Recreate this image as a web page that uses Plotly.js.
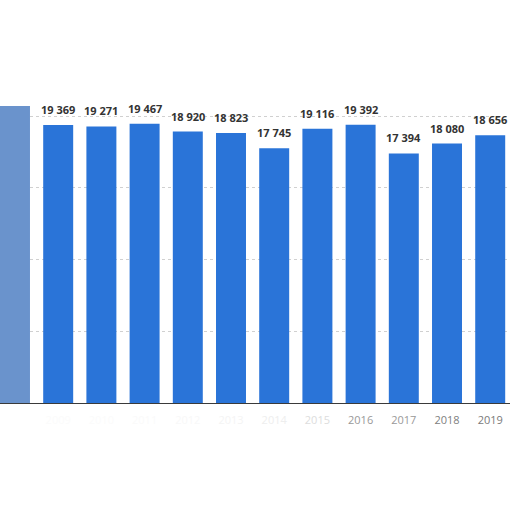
<!DOCTYPE html>
<html>
<head>
<meta charset="utf-8">
<script src="https://cdn.plot.ly/plotly-3.0.1.min.js"></script>
<style>html,body{margin:0;padding:0;background:#fff;}#chart{width:512px;height:512px;}</style>
</head>
<body>
<div id="chart"></div>
<script>
var years = [2008, 2009, 2010, 2011, 2012, 2013, 2014, 2015, 2016, 2017, 2018, 2019];
var values = [20700, 19369, 19271, 19467, 18920, 18823, 17745, 19116, 19392, 17394, 18080, 18656];
var labelText = ['', '19 369', '19 271', '19 467', '18 920', '18 823', '17 745', '19 116', '19 392', '17 394', '18 080', '18 656'];
var tickLabels = ['2008', '2009', '2010', '2011', '2012', '2013', '2014', '2015', '2016', '2017', '2018', '2019'];
var tickColors = ['#ffffff', '#fbfbfb', '#fbfbfb', '#fafafa', '#f8f8f8', '#f4f4f4', '#eeeeee', '#dddddd', '#999999', '#999999', '#808080', '#7a7a7a'];
var barColors = ['#6a93cc', '#2a74d8', '#2a74d8', '#2a74d8', '#2a74d8', '#2a74d8', '#2a74d8', '#2a74d8', '#2a74d8', '#2a74d8', '#2a74d8', '#2a74d8'];

var ticktext = tickLabels.map(function (t, i) {
  return '<span style="color:' + tickColors[i] + '">' + t + '</span>';
});

var annotations = years.map(function (y, i) {
  return {
    x: y, y: values[i], xref: 'x', yref: 'y',
    text: labelText[i], showarrow: false,
    yanchor: 'bottom', yshift: 6,
    font: {family: 'Open Sans', size: 11, color: '#333333', weight: 'bold'}
  };
});

var trace = {
  type: 'bar',
  x: years,
  y: values,
  marker: {color: barColors, line: {width: 0}},
  hoverinfo: 'none'
};

var layout = {
  width: 512, height: 512,
  margin: {l: 0, r: 2, t: 100, b: 109},
  paper_bgcolor: '#ffffff',
  plot_bgcolor: '#ffffff',
  showlegend: false,
  bargap: 0.306,
  xaxis: {
    range: [2007.653, 2019.458],
    tickmode: 'array',
    tickvals: years,
    ticktext: ticktext,
    tickfont: {family: 'Open Sans', size: 11, color: '#777777'},
    showgrid: false,
    showline: true,
    linecolor: '#3a3a3a',
    linewidth: 1,
    ticks: 'outside',
    ticklen: 7,
    tickcolor: 'rgba(0,0,0,0)',
    zeroline: false
  },
  yaxis: {
    range: [0, 21115],
    tickvals: [0, 5000, 10000, 15000, 20000],
    showticklabels: false,
    showgrid: true,
    gridcolor: '#d0d0d0',
    griddash: 'dot',
    gridwidth: 1,
    zeroline: false
  },
  annotations: annotations
};

Plotly.newPlot('chart', [trace], layout, {displayModeBar: false, staticPlot: true});
</script>
</body>
</html>
